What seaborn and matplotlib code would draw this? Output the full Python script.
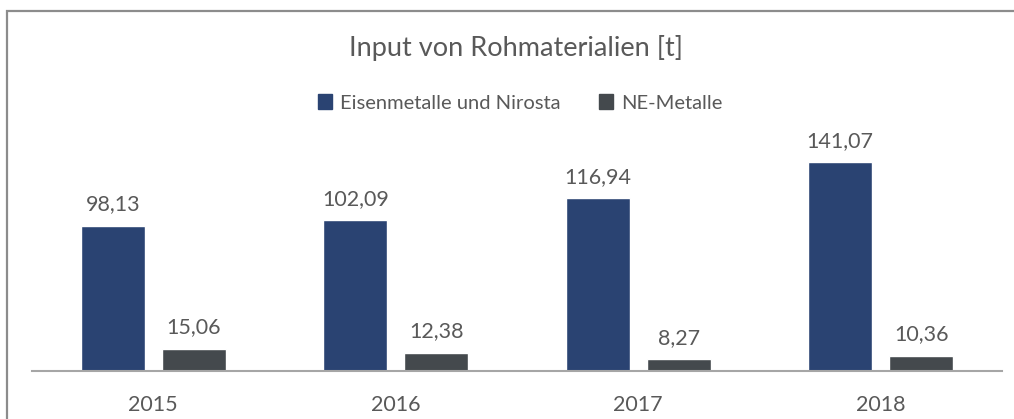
import matplotlib
matplotlib.use("Agg")
import matplotlib.pyplot as plt
import seaborn as sns
import pandas as pd
from matplotlib.patches import Rectangle, Patch

years = ["2015", "2016", "2017", "2018"]
series_names = ["Eisenmetalle und Nirosta", "NE-Metalle"]
eisen = [98.13, 102.09, 116.94, 141.07]
ne = [15.06, 12.38, 8.27, 10.36]
colors = ["#2A4372", "#44494D"]

df = pd.DataFrame({
    "Jahr": years * 2,
    "Serie": [series_names[0]] * 4 + [series_names[1]] * 4,
    "Wert": eisen + ne,
})

sns.set_theme(style="white")
plt.rcParams["font.family"] = ["Lato", "DejaVu Sans"]
text_color = "#595959"

W, H = 1014, 419
fig = plt.figure(figsize=(W / 100, H / 100), dpi=100)
ax = fig.add_axes([32 / W, 1 - 371 / H, (1002 - 32) / W, (371 - 140) / H])

sns.barplot(data=df, x="Jahr", y="Wert", hue="Serie", palette=colors,
            width=0.668, gap=0.21, ax=ax, legend=False, saturation=1)

for cont in ax.containers:
    ax.bar_label(cont, labels=[f"{v:.2f}".replace(".", ",") for v in cont.datavalues],
                 padding=8, fontsize=15.5, color=text_color)

ax.set_ylim(0, 156)
ax.set_xlim(-0.5, 3.5)
ax.set_yticks([])
ax.set_xlabel("")
ax.set_ylabel("")
for s in ["top", "right", "left"]:
    ax.spines[s].set_visible(False)
ax.spines["bottom"].set_color("#A6A6A6")
ax.spines["bottom"].set_linewidth(1.5)
ax.tick_params(axis="x", length=0, pad=17, labelsize=15.5, labelcolor=text_color)

fig.text(516 / W, 1 - 48 / H, "Input von Rohmaterialien [t]", ha="center", va="center",
         fontsize=19.5, color=text_color)

handles = [Patch(facecolor=c, edgecolor=c) for c in colors]
fig.legend(handles, series_names, loc="center", bbox_to_anchor=(520 / W, 1 - 103 / H),
           ncol=2, frameon=False, fontsize=14.5, labelcolor=text_color,
           handlelength=0.7, handleheight=0.7, handletextpad=0.4, columnspacing=1.9)

fig.patches.append(Rectangle((7 / W, -0.1), 1.2, 1 - 11 / H + 0.1, transform=fig.transFigure,
                             fill=False, edgecolor="#8C8C8C", linewidth=1.6))

fig.savefig("out.png", dpi=100, facecolor="white")
